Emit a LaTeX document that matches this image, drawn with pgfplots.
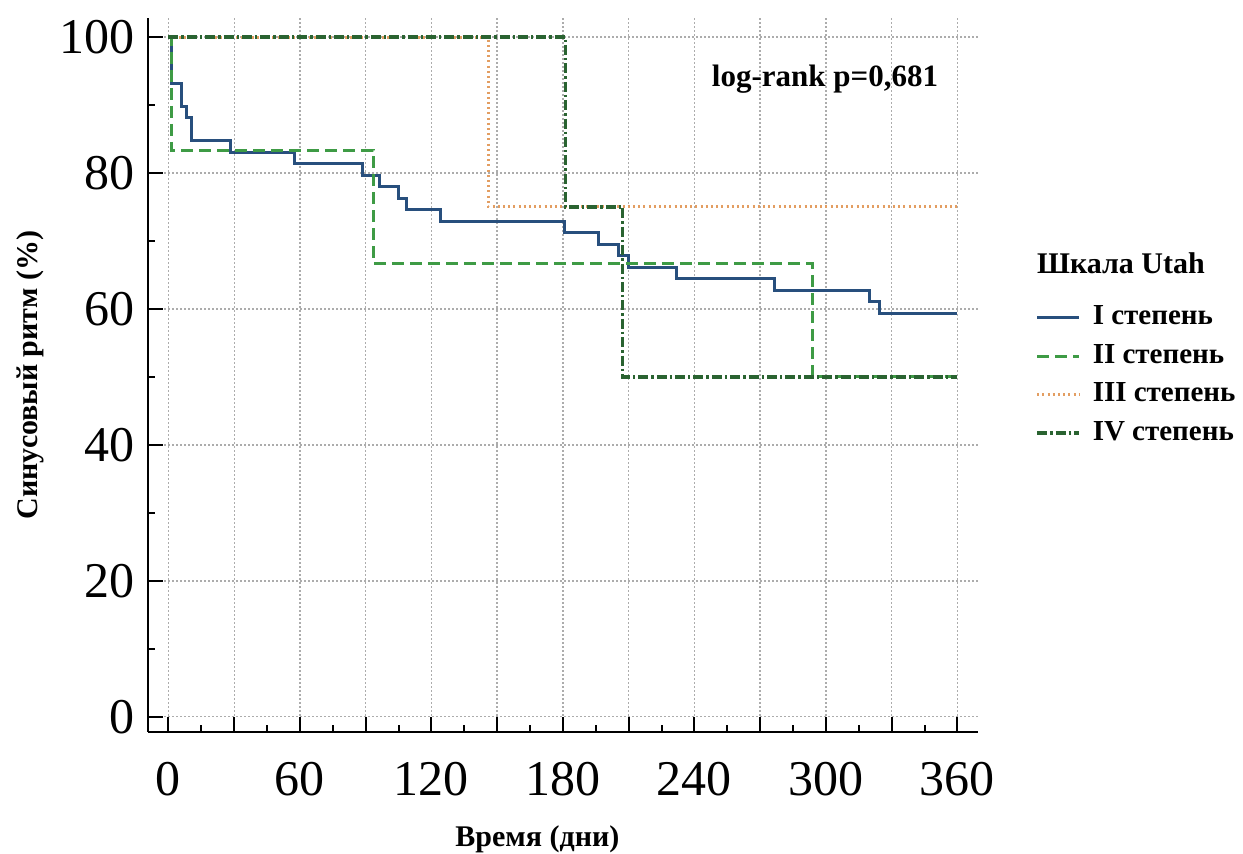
\documentclass[border=0pt]{standalone}
\usepackage{fontspec}
\setmainfont{Liberation Serif}
\usepackage{pgfplots}
\pgfplotsset{compat=1.18}
\definecolor{cI}{HTML}{284F7D}
\definecolor{cII}{HTML}{3E9B45}
\definecolor{cIII}{HTML}{E39E62}
\definecolor{cIV}{HTML}{2A6331}
\begin{document}
\begin{tikzpicture}
\useasboundingbox (0,0) rectangle (621.5pt,-426.5pt);
\begin{axis}[
  at={(74.15pt,-365.85pt)}, anchor=south west,
  width=414.85pt, height=356.85pt, scale only axis,
  clip=false,
  xmin=-9.2, xmax=369.4, ymin=-2.2, ymax=102.8,
  axis x line*=bottom, axis y line*=left,
  axis line style={black, line width=1pt},
  tick align=inside,
  xtick={0,30,...,360}, xticklabels={0,,60,,120,,180,,240,,300,,360},
  ytick={0,20,...,100},
  minor x tick num=1, minor y tick num=1,
  major tick length=7.5pt, minor tick length=3.5pt,
  every tick/.style={black, line width=1pt},
  xmajorgrids, ymajorgrids,
  major grid style={draw=gray!65, line width=0.7pt, dash pattern=on 0.8pt off 1.2pt},
  /pgf/number format/assume math mode=true,
  ticklabel style={font=\fontsize{25}{26}\selectfont},
  xticklabel style={inner sep=0pt, anchor=north, yshift=-15pt},
  yticklabel style={inner sep=0pt, anchor=east, xshift=-6.5pt},
  xlabel={Время (дни)}, ylabel={Синусовый ритм (\%)},
  label style={font=\bfseries\fontsize{15}{18}\selectfont},
  xlabel style={at={(axis description cs:0.469,-0.1503)}, anchor=center},
  ylabel style={at={(axis description cs:-0.1426,0.5)}, anchor=center},
  legend cell align=left,
  legend style={draw=none, fill=none, at={(axis description cs:1.0687,0.5986)}, anchor=north west,
    inner sep=0pt, row sep=6.2pt, column sep=6pt,
    font=\bfseries\fontsize{14.5}{16}\selectfont,
    nodes={inner sep=0pt, text height=10pt, text depth=3pt}},
  legend image code/.code={\draw[#1] (0pt,0pt) -- (21pt,0pt);},
]
\addplot[const plot, color=cI, line width=1.5pt] coordinates {
(0,100) (1.5,93.22) (6.0,89.83) (8.3,88.14) (10.6,84.75) (28.1,83.05) (57.3,81.36)
(88.6,79.66) (96.2,77.97) (104.8,76.27) (108.7,74.58) (124.2,72.88) (180.9,71.19)
(196.1,69.49) (205.2,67.80) (210.1,66.10) (231.8,64.41) (276.7,62.71) (320.0,61.02)
(324.3,59.32) (360,59.32)};
\addlegendentry{I степень}
\addplot[const plot, color=cII, line width=1.5pt, dash pattern=on 6pt off 3pt] coordinates {
(0,100) (1.5,83.33) (93.4,66.67) (293.7,50) (360,50)};
\addlegendentry{II степень}
\addplot[const plot, color=cIII, line width=1.5pt, dash pattern=on 1pt off 1.6pt] coordinates {
(0,100) (145.9,75) (360,75)};
\addlegendentry{III степень}
\addplot[const plot, color=cIV, line width=1.7pt, dash pattern=on 5pt off 1.5pt on 1.2pt off 1.5pt] coordinates {
(0,100) (181.1,75) (207.3,50) (360,50)};
\addlegendentry{IV степень}
\node[anchor=base, font=\bfseries\fontsize{15.5}{18}\selectfont, inner sep=0pt] at (axis description cs:0.8156,0.9037) {log-rank p=0,681};
\node[anchor=base west, font=\bfseries\fontsize{15}{18}\selectfont, inner sep=0pt] at (axis description cs:1.0708,0.6423) {Шкала Utah};
\end{axis}
\end{tikzpicture}
\end{document}
